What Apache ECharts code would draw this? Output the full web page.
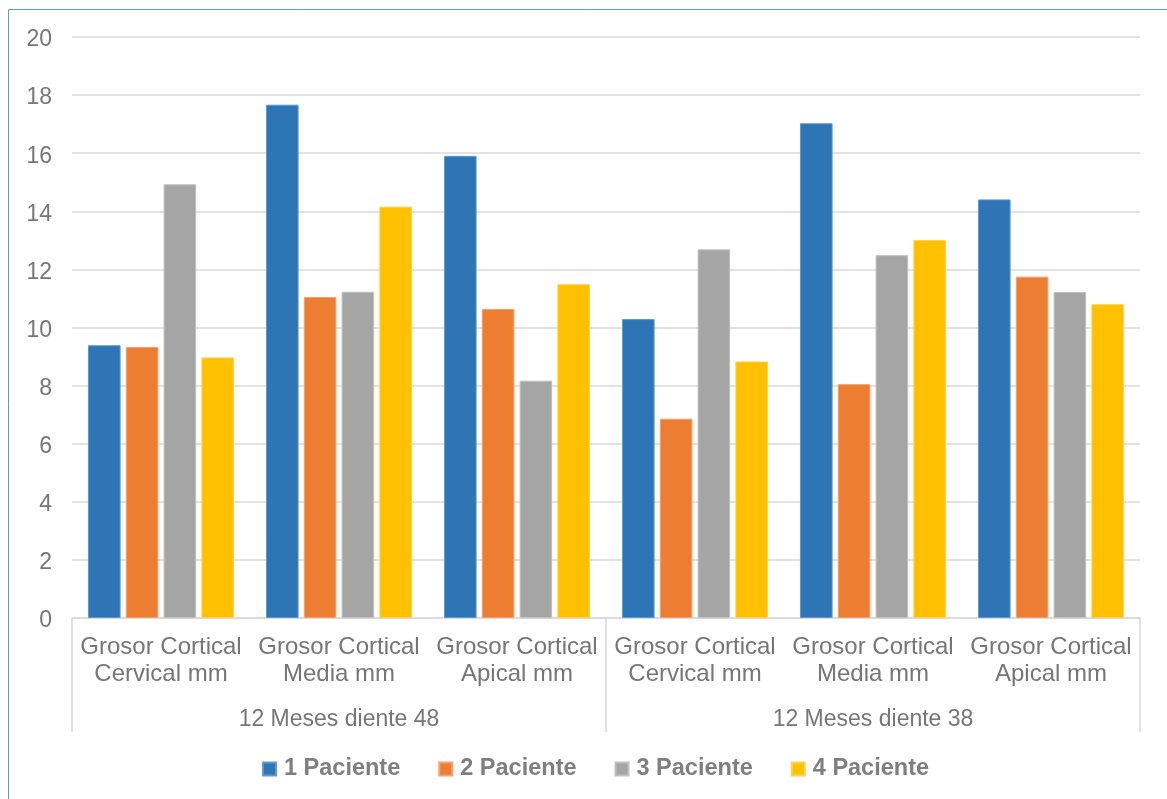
<!DOCTYPE html>
<html>
<head>
<meta charset="utf-8">
<title>Grosor cortical</title>
<script src="https://cdn.jsdelivr.net/npm/echarts@6/dist/echarts.min.js"></script>
<style>
  html, body { margin: 0; padding: 0; background: #fff; }
  #chart { width: 1167px; height: 799px; }
</style>
</head>
<body>
<div id="chart"></div>
<script>
// Sub-categories (measurement site) and their parent groups (tooth)
const categories = [
  'Grosor Cortical\nCervical mm', 'Grosor Cortical\nMedia mm', 'Grosor Cortical\nApical mm',
  'Grosor Cortical\nCervical mm', 'Grosor Cortical\nMedia mm', 'Grosor Cortical\nApical mm'
];
const groups = ['12 Meses diente 48', '12 Meses diente 38'];

// Cortical thickness per patient (mm)
const paciente1 = [9.39, 17.67, 15.91, 10.29, 17.03, 14.41];
const paciente2 = [9.33, 11.05, 10.64, 6.86, 8.05, 11.75];
const paciente3 = [14.93, 11.23, 8.17, 12.69, 12.49, 11.22];
const paciente4 = [8.97, 14.16, 11.49, 8.83, 13.01, 10.80];

const seriesNames = ['1 Paciente', '2 Paciente', '3 Paciente', '4 Paciente'];
const seriesData = [paciente1, paciente2, paciente3, paciente4];
const colors = ['#2E75B6', '#ED7D31', '#A5A5A5', '#FFC000'];
const borders = ['#5B9BD5', '#F4A070', '#C0C0C0', '#FFD24D'];

const yTicks = { min: 0, max: 20, interval: 2 };

const FONT = '"Liberation Sans", Arial, sans-serif';
const chart = echarts.init(document.getElementById('chart'), null, { renderer: 'canvas' });

chart.setOption({
  animation: false,
  color: colors,
  textStyle: { fontFamily: FONT },
  graphic: [{
    type: 'rect',
    shape: { x: 8.5, y: 9.5, width: 1200, height: 820 },
    style: { fill: 'none', stroke: '#5B9BD5', lineWidth: 1 },
    silent: true,
    z: -10
  }],
  grid: { left: 72, right: 27, top: 37, bottom: 181, containLabel: false },
  legend: {
    data: seriesNames,
    left: 262,
    top: 757,
    padding: 0,
    icon: 'rect',
    itemWidth: 13,
    itemHeight: 13,
    itemGap: 38,
    textStyle: { fontFamily: FONT, fontSize: 23.5, fontWeight: 'bold', color: '#7F7F7F', padding: [0, 0, 0, 3] }
  },
  xAxis: [
    {
      type: 'category',
      data: categories,
      position: 'bottom',
      axisLine: { show: true, lineStyle: { color: '#D9D9D9', width: 1.5 } },
      axisTick: { show: false },
      axisLabel: {
        interval: 0,
        margin: 16,
        fontFamily: FONT,
        fontSize: 24,
        lineHeight: 27,
        color: '#767676',
        align: 'center'
      }
    },
    {
      type: 'category',
      data: groups,
      position: 'bottom',
      axisLine: { show: false },
      axisTick: { show: true, length: 114, lineStyle: { color: '#D9D9D9', width: 1.5 } },
      axisLabel: {
        margin: 88,
        fontFamily: FONT,
        fontSize: 23,
        lineHeight: 27,
        color: '#767676'
      }
    }
  ],
  yAxis: {
    type: 'value',
    min: yTicks.min,
    max: yTicks.max,
    interval: yTicks.interval,
    axisLine: { show: false },
    axisTick: { show: false },
    axisLabel: { margin: 20, fontFamily: FONT, fontSize: 23, lineHeight: 30, verticalAlign: 'top', padding: [-12, 0, 0, 0], color: '#767676' },
    splitLine: { lineStyle: { color: '#D9D9D9', width: 1.5 } }
  },
  series: seriesNames.map((name, i) => ({
    name,
    type: 'bar',
    xAxisIndex: 0,
    data: seriesData[i],
    barGap: '16%',
    barCategoryGap: '18%',
    itemStyle: { color: colors[i], borderColor: borders[i], borderWidth: 1 }
  }))
});
</script>
</body>
</html>
